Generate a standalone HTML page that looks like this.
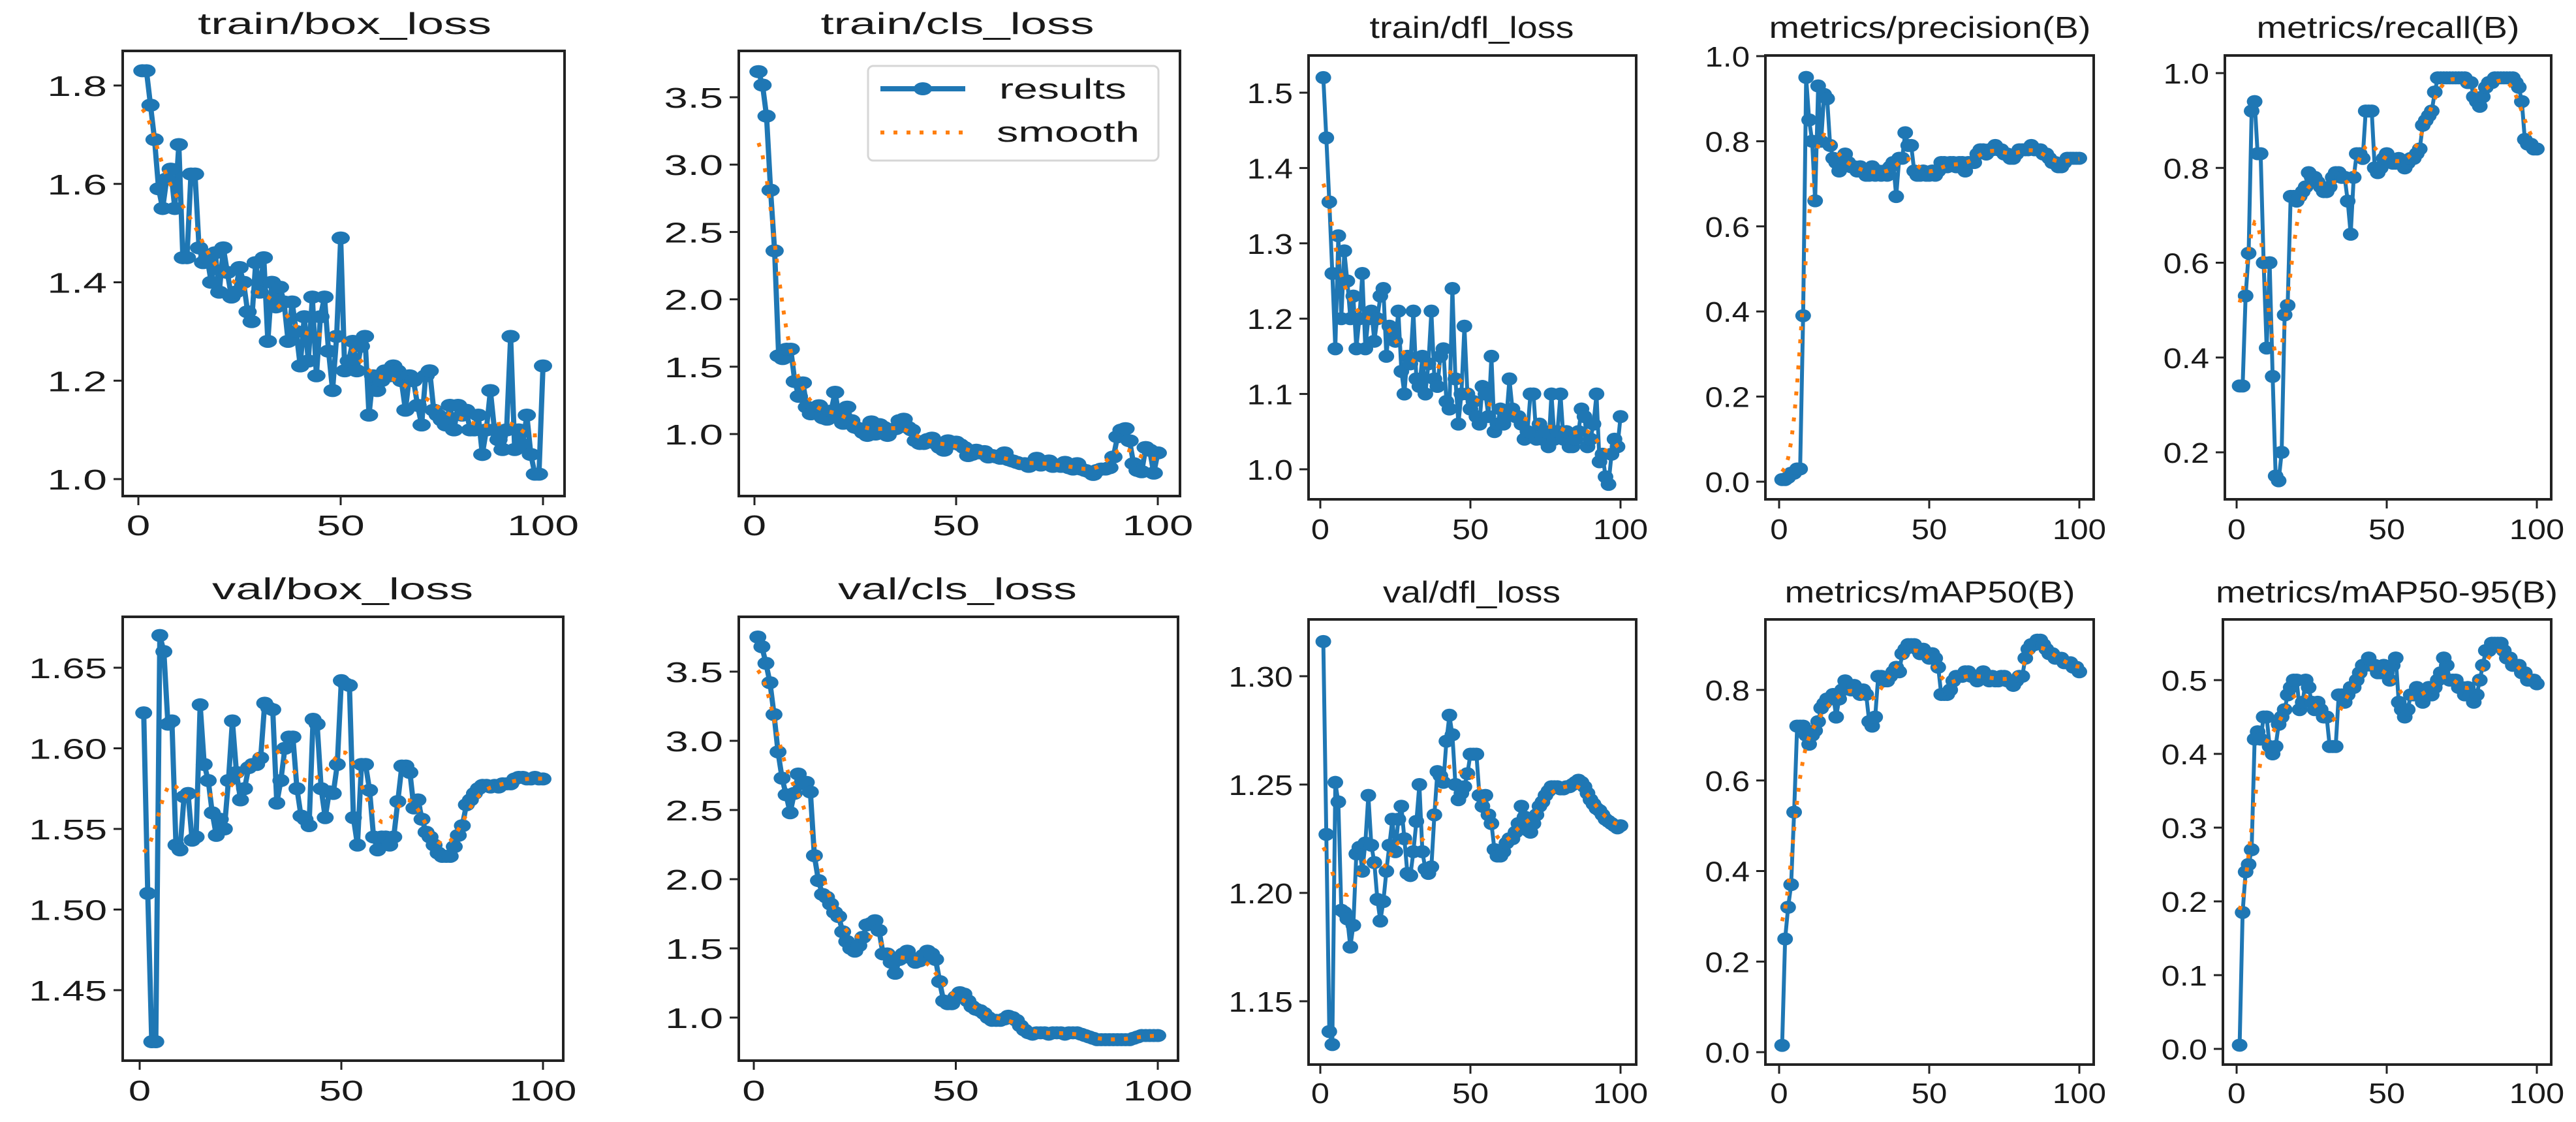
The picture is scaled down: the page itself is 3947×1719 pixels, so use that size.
<!DOCTYPE html>
<html><head><meta charset="utf-8"><style>
html,body{margin:0;padding:0;background:#fff;}
svg{display:block;}
text{font-family:"Liberation Sans",sans-serif;fill:#1a1a1a;}
</style></head><body>
<svg id="chart" xmlns="http://www.w3.org/2000/svg" width="3947" height="1719" viewBox="0 0 3947 1719">
<rect x="0" y="0" width="3947" height="1719" fill="#fff"/>
</svg>
<script>
const trainBox=[1.83,1.83,1.76,1.69,1.59,1.55,1.61,1.63,1.55,1.68,1.45,1.45,1.62,1.62,1.47,1.44,1.45,1.40,1.46,1.38,1.47,1.42,1.37,1.38,1.43,1.40,1.34,1.32,1.44,1.38,1.45,1.28,1.40,1.35,1.39,1.36,1.28,1.36,1.30,1.23,1.33,1.24,1.37,1.21,1.33,1.37,1.26,1.18,1.29,1.49,1.22,1.24,1.28,1.22,1.27,1.29,1.13,1.21,1.18,1.20,1.22,1.21,1.23,1.22,1.20,1.14,1.21,1.20,1.15,1.11,1.21,1.22,1.14,1.13,1.12,1.11,1.15,1.10,1.15,1.13,1.14,1.10,1.10,1.13,1.05,1.10,1.18,1.10,1.08,1.06,1.10,1.29,1.06,1.10,1.07,1.13,1.05,1.01,1.01,1.23];
const trainCls=[3.69,3.59,3.36,2.81,2.36,1.58,1.56,1.63,1.63,1.39,1.28,1.38,1.20,1.15,1.17,1.21,1.12,1.11,1.17,1.31,1.12,1.08,1.20,1.10,1.05,1.04,1.01,0.99,1.09,1.00,1.07,1.05,0.99,1.03,1.04,1.10,1.11,1.05,1.03,0.95,0.93,0.93,0.96,0.97,0.93,0.90,0.88,0.95,0.93,0.94,0.92,0.90,0.84,0.85,0.88,0.86,0.87,0.83,0.84,0.83,0.82,0.86,0.81,0.80,0.79,0.78,0.78,0.76,0.78,0.82,0.77,0.78,0.80,0.76,0.77,0.76,0.79,0.75,0.74,0.78,0.74,0.73,0.72,0.70,0.73,0.74,0.74,0.75,0.83,0.98,1.03,1.04,0.95,0.78,0.73,0.72,0.90,0.88,0.71,0.86];
const trainDfl=[1.52,1.44,1.355,1.26,1.16,1.31,1.20,1.29,1.25,1.20,1.23,1.16,1.20,1.26,1.16,1.20,1.21,1.17,1.20,1.23,1.24,1.15,1.19,1.18,1.17,1.21,1.13,1.10,1.15,1.14,1.21,1.12,1.11,1.15,1.10,1.14,1.21,1.12,1.11,1.15,1.16,1.09,1.08,1.24,1.12,1.06,1.10,1.19,1.10,1.08,1.09,1.07,1.06,1.11,1.10,1.07,1.15,1.05,1.06,1.08,1.06,1.07,1.12,1.08,1.07,1.07,1.06,1.04,1.05,1.10,1.10,1.04,1.06,1.04,1.05,1.03,1.10,1.04,1.05,1.10,1.04,1.05,1.03,1.03,1.04,1.05,1.08,1.07,1.03,1.04,1.06,1.10,1.01,1.02,0.99,0.98,1.02,1.04,1.03,1.07];
const precision=[0.005,0.005,0.01,0.02,0.02,0.03,0.03,0.39,0.95,0.85,0.80,0.66,0.93,0.80,0.91,0.90,0.79,0.76,0.75,0.73,0.76,0.77,0.75,0.74,0.74,0.73,0.74,0.73,0.72,0.72,0.74,0.72,0.73,0.72,0.73,0.72,0.74,0.75,0.67,0.76,0.76,0.82,0.79,0.79,0.73,0.72,0.72,0.73,0.72,0.72,0.73,0.72,0.73,0.75,0.75,0.74,0.75,0.75,0.74,0.75,0.75,0.73,0.75,0.75,0.75,0.77,0.78,0.78,0.77,0.78,0.78,0.79,0.78,0.78,0.77,0.77,0.76,0.76,0.77,0.78,0.78,0.78,0.78,0.79,0.78,0.78,0.78,0.77,0.77,0.76,0.75,0.75,0.74,0.74,0.75,0.76,0.76,0.76,0.76,0.76];
const recall=[0.34,0.34,0.53,0.62,0.92,0.94,0.83,0.83,0.60,0.42,0.60,0.36,0.15,0.14,0.20,0.49,0.51,0.74,0.74,0.73,0.74,0.75,0.76,0.79,0.78,0.78,0.77,0.76,0.75,0.75,0.76,0.78,0.79,0.79,0.78,0.78,0.73,0.66,0.78,0.83,0.83,0.82,0.92,0.92,0.92,0.80,0.79,0.80,0.82,0.83,0.82,0.81,0.81,0.82,0.81,0.80,0.81,0.82,0.82,0.83,0.84,0.89,0.90,0.91,0.92,0.96,0.99,0.99,0.99,0.99,0.99,0.99,0.99,0.99,0.99,0.99,0.98,0.98,0.95,0.94,0.93,0.95,0.97,0.98,0.98,0.99,0.99,0.99,0.99,0.99,0.99,0.99,0.98,0.97,0.94,0.86,0.85,0.85,0.84,0.84];
const valBox=[1.622,1.51,1.418,1.418,1.670,1.660,1.615,1.617,1.540,1.537,1.570,1.572,1.543,1.545,1.627,1.590,1.580,1.560,1.546,1.556,1.550,1.580,1.617,1.585,1.568,1.575,1.588,1.590,1.590,1.594,1.628,1.625,1.624,1.566,1.580,1.600,1.607,1.607,1.575,1.558,1.556,1.552,1.618,1.615,1.575,1.557,1.573,1.572,1.590,1.642,1.640,1.639,1.557,1.540,1.590,1.590,1.574,1.545,1.537,1.545,1.545,1.540,1.545,1.567,1.589,1.589,1.585,1.563,1.568,1.556,1.548,1.545,1.540,1.535,1.533,1.533,1.533,1.539,1.546,1.552,1.565,1.568,1.572,1.575,1.577,1.577,1.576,1.577,1.576,1.578,1.578,1.578,1.581,1.582,1.582,1.581,1.581,1.582,1.581,1.581];
const valCls=[3.75,3.68,3.56,3.42,3.19,2.92,2.73,2.61,2.48,2.62,2.76,2.69,2.70,2.63,2.17,1.99,1.89,1.87,1.82,1.76,1.73,1.62,1.55,1.50,1.48,1.52,1.58,1.67,1.68,1.70,1.63,1.46,1.46,1.40,1.32,1.42,1.46,1.48,1.43,1.40,1.41,1.45,1.48,1.46,1.42,1.26,1.12,1.10,1.10,1.15,1.18,1.17,1.12,1.08,1.06,1.05,1.03,1.00,0.98,0.98,0.98,0.99,1.01,1.00,0.98,0.94,0.91,0.89,0.88,0.89,0.89,0.89,0.88,0.89,0.89,0.89,0.88,0.89,0.89,0.89,0.88,0.87,0.86,0.85,0.84,0.84,0.84,0.84,0.84,0.84,0.84,0.84,0.84,0.85,0.86,0.87,0.87,0.87,0.87,0.87];
const valDfl=[1.316,1.227,1.136,1.130,1.251,1.242,1.192,1.191,1.188,1.175,1.185,1.218,1.221,1.210,1.223,1.245,1.222,1.214,1.197,1.187,1.196,1.210,1.222,1.234,1.219,1.234,1.240,1.225,1.209,1.208,1.219,1.233,1.250,1.219,1.211,1.209,1.212,1.236,1.256,1.254,1.251,1.270,1.282,1.273,1.250,1.243,1.246,1.249,1.255,1.264,1.264,1.264,1.245,1.240,1.245,1.236,1.232,1.220,1.217,1.217,1.219,1.223,1.225,1.225,1.228,1.232,1.240,1.235,1.229,1.228,1.232,1.236,1.240,1.242,1.245,1.247,1.249,1.249,1.249,1.248,1.248,1.249,1.249,1.250,1.251,1.252,1.251,1.249,1.246,1.243,1.241,1.239,1.238,1.236,1.234,1.233,1.232,1.231,1.230,1.231];
const map50=[0.015,0.25,0.32,0.37,0.53,0.72,0.72,0.72,0.70,0.68,0.70,0.71,0.73,0.76,0.77,0.78,0.78,0.79,0.74,0.78,0.80,0.82,0.81,0.80,0.81,0.80,0.79,0.80,0.79,0.73,0.72,0.74,0.83,0.83,0.82,0.82,0.83,0.84,0.85,0.84,0.88,0.89,0.90,0.90,0.90,0.89,0.88,0.89,0.88,0.87,0.88,0.87,0.85,0.79,0.79,0.79,0.80,0.82,0.83,0.83,0.83,0.84,0.84,0.83,0.83,0.82,0.83,0.84,0.83,0.82,0.83,0.82,0.82,0.83,0.83,0.82,0.82,0.81,0.82,0.83,0.83,0.87,0.89,0.90,0.90,0.91,0.91,0.90,0.89,0.88,0.88,0.87,0.87,0.87,0.86,0.86,0.86,0.85,0.85,0.84];
const map5095=[0.005,0.185,0.24,0.25,0.27,0.42,0.43,0.42,0.45,0.45,0.41,0.40,0.41,0.44,0.45,0.46,0.48,0.49,0.50,0.50,0.46,0.47,0.50,0.49,0.47,0.46,0.47,0.46,0.45,0.45,0.41,0.41,0.41,0.48,0.48,0.47,0.48,0.49,0.49,0.50,0.51,0.52,0.52,0.53,0.52,0.52,0.51,0.51,0.52,0.51,0.50,0.52,0.53,0.47,0.46,0.45,0.46,0.48,0.48,0.49,0.48,0.47,0.48,0.49,0.48,0.49,0.50,0.51,0.53,0.52,0.50,0.50,0.50,0.49,0.49,0.48,0.49,0.48,0.47,0.48,0.50,0.52,0.54,0.54,0.55,0.55,0.55,0.55,0.54,0.53,0.53,0.52,0.52,0.52,0.51,0.51,0.50,0.50,0.50,0.495];
const xTicks=[0,50,100];
const ticks1=[1.0,1.2,1.4,1.6,1.8];
const ticks2=[1.0,1.5,2.0,2.5,3.0,3.5];
const ticks3=[1.0,1.1,1.2,1.3,1.4,1.5];
const ticks4=[0.0,0.2,0.4,0.6,0.8,1.0];
const ticks5=[0.2,0.4,0.6,0.8,1.0];
const ticks6=[1.45,1.50,1.55,1.60,1.65];
const ticks8=[1.15,1.20,1.25,1.30];
const ticks9=[0.0,0.2,0.4,0.6,0.8];
const ticks10=[0.0,0.1,0.2,0.3,0.4,0.5];

const NS='http://www.w3.org/2000/svg';
const svg=document.getElementById('chart');
function mk(tag,attrs,parent){const e=document.createElementNS(NS,tag);for(const k in attrs)e.setAttribute(k,attrs[k]);(parent||svg).appendChild(e);return e;}
function natW(s,fs){let w=0;for(const c of s){w+=(c==='.'?0.278:c==='/'?0.278:c==='-'?0.333:0.556);}return w*fs;}
function gsmooth(y,s){const r=Math.ceil(4*s),n=y.length,out=[];const w=[];let sum=0;for(let k=-r;k<=r;k++){const v=Math.exp(-k*k/(2*s*s));w.push(v);sum+=v;}
 for(let i=0;i<n;i++){let a=0;for(let k=-r;k<=r;k++){let j=i+k;while(j<0||j>=n){if(j<0)j=-j-1;if(j>=n)j=2*n-j-1;}a+=y[j]*w[k+r];}out.push(a/sum);}return out;}

const panels=[
 {name:'train-box-loss',title:'train/box_loss',data:trainBox,fr:[188,78,865,760],x0:212,x1:832,ya:[1.8,131],yb:[1.0,734],ticks:ticks1,dec:1,sx:1.5,tc:528,tw:450,tb:52,xb:820,lw:8,rx:14,ry:10},
 {name:'train-cls-loss',title:'train/cls_loss',data:trainCls,fr:[1132,78,1808,760],x0:1156,x1:1774,ya:[3.5,149],yb:[1.0,665],ticks:ticks2,dec:1,sx:1.48,tc:1467,tw:419,tb:52,xb:820,lw:8,rx:14,ry:10},
 {name:'train-dfl-loss',title:'train/dfl_loss',data:trainDfl,fr:[2005,85,2507,765],x0:2023,x1:2483,ya:[1.5,142],yb:[1.0,719],ticks:ticks3,dec:1,sx:1.15,tc:2255,tw:313,tb:58,xb:826,lw:6,rx:12,ry:10},
 {name:'metrics-precision',title:'metrics/precision(B)',data:precision,fr:[2705,85,3208,765],x0:2726,x1:3186,ya:[1.0,86],yb:[0.0,738],ticks:ticks4,dec:1,sx:1.12,tc:2957,tw:493,tb:58,xb:826,lw:6,rx:12,ry:10},
 {name:'metrics-recall',title:'metrics/recall(B)',data:recall,fr:[3409,85,3909,765],x0:3427,x1:3887,ya:[1.0,112],yb:[0.2,693],ticks:ticks5,dec:1,sx:1.15,tc:3659,tw:403,tb:58,xb:826,lw:6,rx:12,ry:10},
 {name:'val-box-loss',title:'val/box_loss',data:valBox,fr:[188,945,863,1625],x0:214,x1:832,ya:[1.65,1023],yb:[1.45,1517],ticks:ticks6,dec:2,sx:1.4,tc:525,tw:400,tb:918,xb:1686,lw:8,rx:13,ry:10},
 {name:'val-cls-loss',title:'val/cls_loss',data:valCls,fr:[1132,945,1805,1625],x0:1155,x1:1774,ya:[3.5,1029],yb:[1.0,1559],ticks:ticks2,dec:1,sx:1.45,tc:1467,tw:366,tb:918,xb:1686,lw:8,rx:13,ry:10},
 {name:'val-dfl-loss',title:'val/dfl_loss',data:valDfl,fr:[2005,949,2507,1631],x0:2023,x1:2483,ya:[1.30,1036],yb:[1.15,1534],ticks:ticks8,dec:2,sx:1.15,tc:2255,tw:272,tb:923,xb:1690,lw:6,rx:12,ry:10},
 {name:'metrics-map50',title:'metrics/mAP50(B)',data:map50,fr:[2705,949,3208,1631],x0:2726,x1:3186,ya:[0.8,1057],yb:[0.0,1612],ticks:ticks9,dec:1,sx:1.12,tc:2957,tw:445,tb:923,xb:1690,lw:6,rx:12,ry:10},
 {name:'metrics-map50-95',title:'metrics/mAP50-95(B)',data:map5095,fr:[3406,949,3909,1631],x0:3427,x1:3887,ya:[0.5,1042],yb:[0.0,1607],ticks:ticks10,dec:1,sx:1.15,tc:3657,tw:524,tb:923,xb:1690,lw:6,rx:12,ry:10}
];
const FS=44;
panels.forEach(p=>{
 const g=mk('g',{});
 
 
 const X=v=>p.x0+(p.x1-p.x0)*v/100;
 const Y=v=>p.ya[1]+(p.yb[1]-p.ya[1])*(v-p.ya[0])/(p.yb[0]-p.ya[0]);
 const [l,t,r,b]=p.fr;
 const tt=mk('text',{x:p.tc,y:p.tb,'text-anchor':'middle','font-size':46,textLength:p.tw,lengthAdjust:'spacingAndGlyphs'},g);
 tt.textContent=p.title;
 
 
 p.ticks.forEach(v=>{
  const y=Y(v);
  const tk=mk('line',{x1:l-14,x2:l,y1:y,y2:y,stroke:'#222','stroke-width':3},g);
  
  
  const s=v.toFixed(p.dec);
  const tx=mk('text',{x:l-24,y:y+16,'text-anchor':'end','font-size':FS,textLength:natW(s,FS)*p.sx,lengthAdjust:'spacingAndGlyphs'},g);
  tx.textContent=s;
  
  
 });
 xTicks.forEach(v=>{
  const x=X(v);
  const tk=mk('line',{x1:x,x2:x,y1:b,y2:b+14,stroke:'#222','stroke-width':3},g);
  
  
  const s=String(v);
  const tx=mk('text',{x:x,y:p.xb,'text-anchor':'middle','font-size':FS,textLength:natW(s,FS)*p.sx,lengthAdjust:'spacingAndGlyphs'},g);
  tx.textContent=s;
  
  
 });
 const pts=p.data.map((v,i)=>X(i+1).toFixed(1)+','+Y(v).toFixed(1)).join(' ');
 const ln=mk('polyline',{points:pts,fill:'none',stroke:'#1f77b4','stroke-width':p.lw,'stroke-linejoin':'round'},g);
 
 
 p.data.forEach((v,i)=>{
  const m=mk('ellipse',{cx:X(i+1),cy:Y(v),rx:p.rx,ry:p.ry,fill:'#1f77b4'},g);
  
  
 });
 const sm=gsmooth(p.data,3);
 const spts=sm.map((v,i)=>X(i+1).toFixed(1)+','+Y(v).toFixed(1)).join(' ');
 const sl=mk('polyline',{points:spts,fill:'none',stroke:'#ff7f0e','stroke-width':6,'stroke-dasharray':'6 14'},g);
 
 
 const fr=mk('rect',{x:l,y:t,width:r-l,height:b-t,fill:'none',stroke:'#222','stroke-width':4},g);
 
 
});
const lg=mk('g',{});


mk('rect',{x:1330,y:101,width:445,height:145,rx:8,fill:'#fff','fill-opacity':0.85,stroke:'#d6d6d6','stroke-width':3},lg);
const l1=mk('line',{x1:1349,x2:1479,y1:136,y2:136,stroke:'#1f77b4','stroke-width':8},lg);


mk('ellipse',{cx:1414,cy:136,rx:14,ry:10,fill:'#1f77b4'},lg);
const t1=mk('text',{x:1531,y:151,'font-size':44,textLength:195,lengthAdjust:'spacingAndGlyphs'},lg);
t1.textContent='results';


const l2=mk('line',{x1:1349,x2:1479,y1:203,y2:203,stroke:'#ff7f0e','stroke-width':6,'stroke-dasharray':'6 14'},lg);


const t2=mk('text',{x:1527,y:217,'font-size':44,textLength:219,lengthAdjust:'spacingAndGlyphs'},lg);
t2.textContent='smooth';


</script>
</body></html>
